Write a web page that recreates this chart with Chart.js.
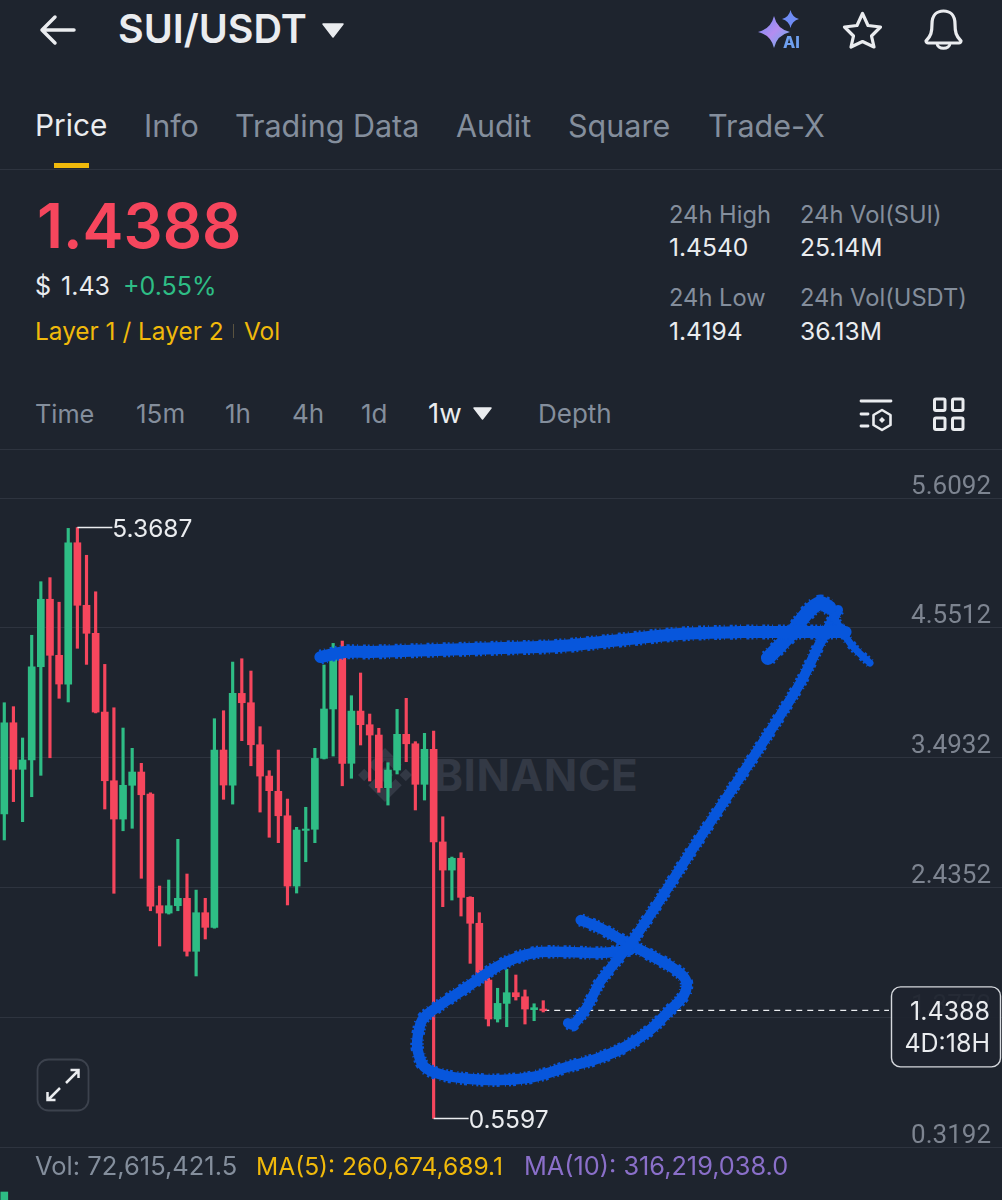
<!DOCTYPE html>
<html>
<head>
<meta charset="utf-8">
<title>SUI/USDT</title>
<script src="https://cdn.jsdelivr.net/npm/chart.js@4"></script>
<style>
  html, body { margin: 0; padding: 0; background: #1e242e; }
  #page { position: relative; width: 1002px; height: 1200px; overflow: hidden; background: #1e242e; font-family: Inter, "Noto Sans", sans-serif; }
  .t { position: absolute; white-space: nowrap; transform: translateY(-50%); line-height: 1; }
  .rule { position: absolute; left: 0; width: 1002px; height: 1px; background: #2e343f; }
  svg.layer { position: absolute; left: 0; top: 0; }
  canvas { position: absolute; left: 0; top: 449px; }
  .tab { font-size: 30.5px; color: #848e9c; top: 126px; }
  .label { font-size: 23.7px; color: #848e9c; }
  .value { font-size: 24.6px; color: #eaecef; }
  .light { color: #eaecef; }
  .range { font-size: 26px; color: #848e9c; top: 414px; }
  .foot { top: 1166px; }
</style>
</head>
<body>
<div id="page">
  <svg class="layer" width="1002" height="1200" viewBox="0 0 1002 1200">
    <g transform="translate(385 775) scale(0.27)" fill="#333945">
      <polygon points="0,-30 30,0 0,30 -30,0"/>
      <polygon points="-77,-23 -54,0 -77,23 -100,0"/>
      <polygon points="77,-23 100,0 77,23 54,0"/>
      <polygon points="0,-100 62,-38 39,-15 0,-54 -39,-15 -62,-38"/>
      <polygon points="0,100 62,38 39,15 0,54 -39,15 -62,38"/>
    </g>
  </svg>
  <div class="t" style="left:434px;top:775px;font-size:44px;font-weight:700;letter-spacing:0.5px;color:#333945">BINANCE</div>

  <canvas id="chart" width="1002" height="751"></canvas>

  <div class="t light" style="left:118px;top:30px;font-size:39.5px;font-weight:600">SUI/USDT</div>
  <div class="t tab light" style="left:35px;font-size:29.8px">Price</div>
  <div class="t tab" style="left:144px">Info</div>
  <div class="t tab" style="left:235px">Trading Data</div>
  <div class="t tab" style="left:456px">Audit</div>
  <div class="t tab" style="left:568px">Square</div>
  <div class="t tab" style="left:708px">Trade-X</div>
  <div style="position:absolute;left:54px;top:163px;width:35px;height:5px;background:#f0b90b"></div>
  <div class="rule" style="top:169px"></div>

  <div class="t" style="left:37px;top:226px;font-size:61.5px;font-weight:600;color:#f6465d">1.4388</div>
  <div class="t light" style="left:35px;top:286px;font-size:25px;word-spacing:3px">$ 1.43</div>
  <div class="t" style="left:123px;top:286px;font-size:25px;color:#2ebd85">+0.55%</div>
  <div class="t" style="left:35px;top:331px;font-size:24.4px;color:#f0b90b">Layer 1 / Layer 2</div>
  <div style="position:absolute;left:233px;top:324px;width:1px;height:14px;background:#5a5340"></div>
  <div class="t" style="left:244px;top:331px;font-size:24.4px;color:#f0b90b">Vol</div>

  <div class="t label" style="left:669px;top:215px">24h High</div>
  <div class="t value" style="left:669px;top:247px">1.4540</div>
  <div class="t label" style="left:800px;top:215px">24h Vol(SUI)</div>
  <div class="t value" style="left:800px;top:247px">25.14M</div>
  <div class="t label" style="left:669px;top:298px">24h Low</div>
  <div class="t value" style="left:669px;top:331px">1.4194</div>
  <div class="t label" style="left:800px;top:298px">24h Vol(USDT)</div>
  <div class="t value" style="left:800px;top:331px">36.13M</div>

  <div class="t range" style="left:35px;font-size:25.3px">Time</div>
  <div class="t range" style="left:136px">15m</div>
  <div class="t range" style="left:225px">1h</div>
  <div class="t range" style="left:292px">4h</div>
  <div class="t range" style="left:361px">1d</div>
  <div class="t range" style="left:428px;color:#eaecef;font-size:27.5px">1w</div>
  <div class="t range" style="left:538px">Depth</div>
  <div class="rule" style="top:449px"></div>

  <div class="t foot" style="left:35px;font-size:25.5px;color:#848e9c">Vol: 72,615,421.5</div>
  <div class="t foot" style="left:256px;font-size:24.6px;color:#f0b90b">MA(5): 260,674,689.1</div>
  <div class="t foot" style="left:524px;font-size:25.3px;color:#8a6fc9">MA(10): 316,219,038.0</div>

  <svg class="layer" width="1002" height="1200" viewBox="0 0 1002 1200" fill="none">
    <defs>
      <linearGradient id="spark" x1="0" y1="0" x2="1" y2="1">
        <stop offset="0" stop-color="#6f8cf5"/><stop offset="0.5" stop-color="#b48df0"/><stop offset="1" stop-color="#5fb4ee"/>
      </linearGradient>
    </defs>
    <!-- header controls -->
    <path d="M74 30H42M55 17L42 30L55 43" stroke="#eaecef" stroke-width="3.5" stroke-linecap="round" stroke-linejoin="round"/>
    <path d="M323 24H343L333 37Z" fill="#eaecef" stroke="#eaecef" stroke-width="1.5" stroke-linejoin="round"/>
    <path d="M774 16Q777 29 790 32Q777 35 774 48Q771 35 758 32Q771 29 774 16Z" fill="url(#spark)"/>
    <path d="M790.5 10Q792 17 799 19Q792 21 790.5 28Q789 21 782 19Q789 17 790.5 10Z" fill="#6f8cf5"/>
    <text x="783" y="48" font-family="Inter, sans-serif" font-size="16" font-weight="800" fill="#6fa0f0">AI</text>
    <path d="M862.5 13.5L868 25.5L880.5 27L871.5 36L874 47L862.5 41.5L851 47L853.5 36L844.5 27L857 25.5Z" stroke="#eaecef" stroke-width="3.2" stroke-linejoin="round"/>
    <path d="M926 41C931 36 932 32 932 24C932 15 937 11 943.5 11C950 11 955 15 955 24C955 32 956 36 961 41C961 42 960 43 959 43H928C927 43 926 42 926 41Z" stroke="#eaecef" stroke-width="3.2" stroke-linejoin="round"/>
    <path d="M937 43C937 50 950 50 950 43" stroke="#eaecef" stroke-width="3"/>
    <!-- interval row -->
    <path d="M474 408H491L482.500 419Z" fill="#eaecef" stroke="#eaecef" stroke-width="1.5" stroke-linejoin="round"/>
    <path d="M861 401H891M861 414H868M861 426H868" stroke="#eaecef" stroke-width="2.800" stroke-linecap="round"/>
    <path d="M882 410L890.500 415V425L882 430L873.500 425V415Z" stroke="#eaecef" stroke-width="2.600" stroke-linejoin="round"/>
    <path d="M882 417L885 420L882 423L879 420Z" fill="#eaecef"/>
    <g stroke="#eaecef" stroke-width="3">
      <rect x="934.500" y="399" width="10.500" height="11.500" rx="1.500"/>
      <rect x="952.500" y="399" width="10.500" height="11.500" rx="1.500"/>
      <rect x="934.500" y="418" width="10.500" height="11.500" rx="1.500"/>
      <rect x="952.500" y="418" width="10.500" height="11.500" rx="1.500"/>
    </g>
    <!-- full-screen button -->
    <rect x="37.500" y="1059.500" width="51" height="51" rx="11" fill="#1e242e" stroke="#3c424d" stroke-width="1.800"/>
    <path d="M66 1083L78 1071M70.500 1070H78.500V1078M60 1088L48 1100M47.500 1092V1100H55.500" stroke="#eaecef" stroke-width="2.500"/>
  </svg>
</div>

<script>
// Weekly SUI/USDT candles, oldest first
const weekOpen = [3.037,3.780,3.401,3.477,4.236,4.785,4.329,4.095,5.245,4.736,4.508,3.867,3.308,2.996,3.271,3.379,3.200,2.291,2.231,2.291,2.351,1.920,2.234,2.115,3.558,3.273,4.019,3.943,3.601,3.346,3.222,3.023,2.451,2.904,2.913,3.490,3.892,4.307,3.450,3.875,3.764,3.680,3.251,3.395,3.686,3.609,3.279,3.564,2.810,2.581,2.677,2.359,2.148,1.686,1.369,1.496,1.583,1.550,1.445,1.4500];
const weekHigh = [3.943,3.911,3.656,4.492,4.928,4.961,4.761,5.362,5.3687,5.143,4.846,4.255,3.902,3.737,3.572,3.450,3.210,2.451,2.500,2.831,2.549,2.418,2.351,3.813,3.878,4.274,4.301,4.201,3.748,3.390,3.558,3.159,2.929,3.092,3.572,4.250,4.426,4.445,4.000,4.185,3.851,3.735,3.455,3.889,3.979,3.626,3.694,3.713,3.015,2.687,2.722,2.364,2.234,1.702,1.619,1.773,1.727,1.605,1.493,1.518];
const weekLow = [2.826,3.138,2.975,3.178,3.352,3.495,3.979,3.949,4.386,4.255,3.860,3.078,2.392,2.901,2.921,2.514,2.250,1.963,2.223,2.250,1.881,1.719,2.020,2.108,3.157,3.118,3.634,3.430,3.053,2.848,2.804,2.297,2.394,2.649,2.804,3.485,3.509,3.267,3.328,3.599,3.306,3.214,3.110,3.363,3.463,3.070,3.151,0.5597,2.283,2.337,2.207,1.822,1.645,1.312,1.344,1.306,1.523,1.328,1.355,1.426];
const weekClose = [3.780,3.401,3.477,4.236,4.785,4.329,4.095,5.245,4.736,4.508,3.867,3.308,2.996,3.271,3.379,3.194,2.288,2.231,2.291,2.351,1.920,2.234,2.115,3.558,3.273,4.019,3.943,3.601,3.346,3.227,3.023,2.451,2.907,2.915,3.490,3.892,4.307,3.450,3.875,3.764,3.680,3.251,3.395,3.686,3.609,3.279,3.564,2.810,2.581,2.677,2.359,2.148,1.686,1.369,1.496,1.583,1.550,1.450,1.461,1.4388];

// Volume pane, only the leading bar reaches the visible strip
const weekVolume = [40000000];

// Price axis labels and the index of the one date gridline in view
const priceTicks = [5.6092, 4.5512, 3.4932, 2.4352, 1.3772, 0.3192];
const dateGridIndex = 31.05;

// Reference prices
const highestPrice = 5.3687;
const lowestPrice = 0.5597;
const lastPrice = 1.4388;
const countdown = '4D:18H';

// Hand-drawn markup, in candle index and price
const trendX = [34.60,37.30,40.03,47.37,54.59,60.83,67.40,73.97,80.54,87.11,92.10];
const trendY = [4.315,4.356,4.356,4.372,4.388,4.404,4.453,4.502,4.518,4.518,4.518];
const headLeftX = [83.60,86.01,87.98,89.30,90.30];
const headLeftY = [4.307,4.494,4.681,4.754,4.720];
const headRightX = [90.30,91.60,92.90,94.77];
const headRightY = [4.720,4.540,4.400,4.266];
const shaftX = [91.27,89.30,87.44,86.01,82.51,78.90,75.28,71.78,68.83,65.21,63.79,62.26,61.70];
const shaftY = [4.698,4.429,4.144,3.965,3.558,3.151,2.744,2.337,2.012,1.670,1.466,1.320,1.336];
const loopX = [63.10,65.21,68.17,70.69,73.20,74.60,74.40,72.55,70.69,67.73,64.45,61.60,57.88,54.27,50.98,48.03,46.00,45.25,45.25,45.75,46.93,50.65,54.27,57.88,61.60,65.21,68.50];
const loopY = [2.174,2.109,1.987,1.890,1.784,1.686,1.564,1.417,1.280,1.133,1.035,0.978,0.897,0.872,0.880,0.913,0.978,1.116,1.222,1.361,1.442,1.629,1.808,1.906,1.914,1.906,1.930];

const UP = '#2ebd85', DOWN = '#f6465d', INK = '#0756dc';
const candleColors = weekOpen.map((o, i) => weekClose[i] >= o ? UP : DOWN);
const zip = (xs, ys) => xs.map((x, i) => ({ x, y: ys[i] }));

// A marker stroke is a solid core plus a dashed, slightly wider pass that frays its edge
const stroke = (xs, ys, width, tension) => [
  {
    type: 'line', data: zip(xs, ys), borderColor: INK, borderWidth: width, pointRadius: 0,
    tension, borderCapStyle: 'round', borderJoinStyle: 'round', order: 0
  },
  {
    type: 'line', data: zip(xs, ys), borderColor: INK, borderWidth: width + 3, pointRadius: 0,
    tension, borderCapStyle: 'butt', borderDash: [2, 3, 1, 5, 3, 2], order: 0
  }
];

// Reference lines and their captions around the candles
const priceMarks = {
  id: 'priceMarks',
  beforeDatasetsDraw(chart) {
    const { ctx, scales: { x, y } } = chart;
    const py = y.getPixelForValue(lastPrice);
    ctx.save();
    ctx.strokeStyle = '#eaecef';
    ctx.lineWidth = 1.2;
    ctx.setLineDash([6, 5]);
    ctx.beginPath();
    ctx.moveTo(x.getPixelForValue(weekOpen.length - 1), py);
    ctx.lineTo(889, py);
    ctx.stroke();
    ctx.restore();
  },
  afterDatasetsDraw(chart) {
    const { ctx, scales: { x, y } } = chart;
    const extreme = (index, price) => {
      const px = x.getPixelForValue(index), py = y.getPixelForValue(price);
      ctx.strokeStyle = '#eaecef';
      ctx.lineWidth = 1.4;
      ctx.beginPath();
      ctx.moveTo(px, py);
      ctx.lineTo(px + 35, py);
      ctx.stroke();
      ctx.fillStyle = '#eaecef';
      ctx.font = '24.5px Inter';
      ctx.textAlign = 'left';
      ctx.textBaseline = 'middle';
      ctx.fillText(price.toFixed(4), px + 35, py + 2);
    };
    ctx.save();
    extreme(weekHigh.indexOf(highestPrice), highestPrice);
    extreme(weekLow.indexOf(lowestPrice), lowestPrice);

    // Last price badge
    const py = y.getPixelForValue(lastPrice);
    ctx.beginPath();
    ctx.roundRect(891.5, py - 23.5, 109, 80, 9);
    ctx.fillStyle = 'rgba(30,36,46,0.93)';
    ctx.fill();
    ctx.strokeStyle = '#d5d8dd';
    ctx.lineWidth = 1.4;
    ctx.stroke();
    ctx.fillStyle = '#eaecef';
    ctx.font = '25px Inter';
    ctx.textAlign = 'right';
    ctx.textBaseline = 'middle';
    ctx.fillText(lastPrice.toFixed(4), 990, py + 2);
    ctx.fillText(countdown, 990, py + 34);
    ctx.restore();
  }
};

new Chart(document.getElementById('chart'), {
  data: {
    datasets: [
      ...stroke(trendX, trendY, 12, 0.35),
      ...stroke(headLeftX, headLeftY, 14, 0.35),
      ...stroke(headRightX, headRightY, 7, 0.35),
      ...stroke(shaftX, shaftY, 10, 0.2),
      ...stroke(loopX, loopY, 10.5, 0.35),
      {
        type: 'bar', order: 2, grouped: false, barThickness: 7,
        data: weekOpen.map((o, i) => ({ x: i, y: [o, weekClose[i]] })),
        backgroundColor: candleColors
      },
      {
        type: 'bar', order: 3, grouped: false, barThickness: 2.5,
        data: weekHigh.map((h, i) => ({ x: i, y: [weekLow[i], h] })),
        backgroundColor: candleColors
      },
      {
        type: 'bar', order: 3, grouped: false, barThickness: 7, yAxisID: 'volume',
        data: weekVolume.map((v, i) => ({ x: i, y: v })),
        backgroundColor: UP
      }
    ]
  },
  options: {
    responsive: false,
    animation: false,
    events: [],
    layout: { padding: 0 },
    plugins: { legend: { display: false }, tooltip: { enabled: false } },
    scales: {
      x: {
        type: 'linear', min: -0.47, max: 109.22, offset: false,
        border: { display: false },
        grid: { color: '#2e343f', drawTicks: false },
        ticks: { display: false },
        afterBuildTicks(scale) { scale.ticks = [{ value: dateGridIndex }]; }
      },
      y: {
        type: 'linear', position: 'right', min: -0.1042, max: 6.008,
        border: { display: false },
        grid: { color: '#2e343f', drawTicks: false },
        ticks: {
          mirror: true, padding: -11, labelOffset: -11,
          color: '#7d8490', font: { family: 'Roboto', size: 26 },
          callback: v => v.toFixed(4)
        },
        afterBuildTicks(scale) { scale.ticks = priceTicks.map(value => ({ value })); },
        afterFit(scale) { scale.paddingTop = 0; scale.paddingBottom = 0; }
      },
      volume: { type: 'linear', display: false, min: 0, max: 3755000000 }
    }
  },
  plugins: [priceMarks]
});
</script>
</body>
</html>
